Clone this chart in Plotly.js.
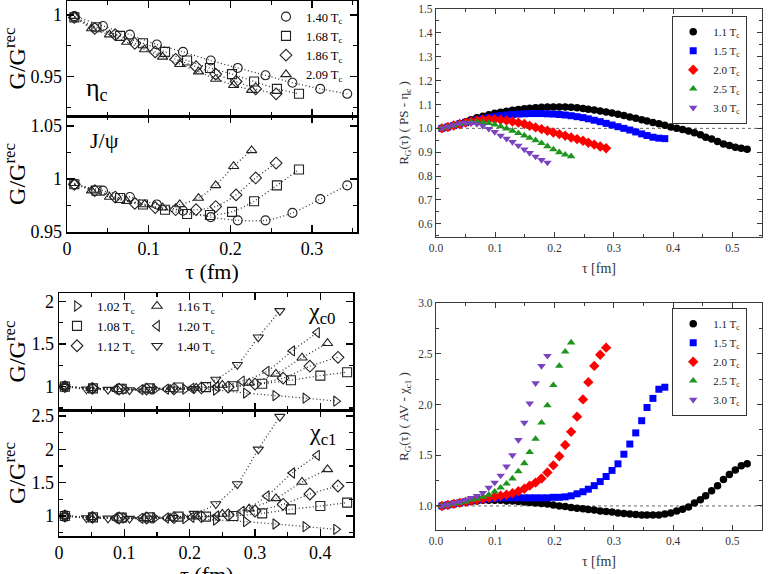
<!DOCTYPE html>
<html>
<head>
<meta charset="utf-8">
<script src="https://cdn.plot.ly/plotly-3.0.1.min.js"></script>
<style>
  html, body { margin: 0; padding: 0; background: #ffffff; }
  #chart { width: 768px; height: 574px; }
</style>
</head>
<body>
<div id="chart"></div>
<script>
// ---------------- eta_c / J/psi correlator ratios (left, top) ----------------
const TAU_PS_140 = [0.009, 0.044, 0.077, 0.110, 0.142, 0.176, 0.209, 0.243, 0.276, 0.310, 0.343];
const TAU_PS_168 = [0.009, 0.036, 0.065, 0.093, 0.120, 0.147, 0.175, 0.202, 0.229, 0.257, 0.284];
const TAU_PS_186 = [0.009, 0.034, 0.059, 0.083, 0.108, 0.133, 0.158, 0.182, 0.207, 0.231, 0.256];
const TAU_PS_209 = [0.009, 0.030, 0.052, 0.073, 0.095, 0.117, 0.138, 0.161, 0.182, 0.204, 0.226];

const ETAC_140 = [0.999, 0.991, 0.984, 0.976, 0.970, 0.963, 0.957, 0.951, 0.945, 0.940, 0.936];
const ETAC_168 = [0.998, 0.990, 0.983, 0.977, 0.970, 0.963, 0.957, 0.952, 0.946, 0.940, 0.936];
const ETAC_186 = [0.998, 0.989, 0.984, 0.977, 0.970, 0.964, 0.958, 0.952, 0.946, 0.940, 0.936];
const ETAC_209 = [0.999, 0.989, 0.984, 0.978, 0.972, 0.966, 0.960, 0.954, 0.948, 0.943, 0.939];

const JPSI_140 = [0.995, 0.989, 0.983, 0.976, 0.970, 0.964, 0.961, 0.961, 0.968, 0.981, 0.994];
const JPSI_168 = [0.995, 0.989, 0.982, 0.976, 0.971, 0.967, 0.966, 0.969, 0.979, 0.994, 1.009];
const JPSI_186 = [0.995, 0.989, 0.983, 0.977, 0.973, 0.971, 0.971, 0.974, 0.985, 1.001, 1.015];
const JPSI_209 = [0.996, 0.989, 0.983, 0.979, 0.976, 0.973, 0.976, 0.982, 0.994, 1.012, 1.027];

const PS_TEMPS = ['1.40', '1.68', '1.86', '2.09'];

// ---------------- chi_c0 / chi_c1 correlator ratios (left, bottom) ----------------
const TAU_P_102 = [0.009, 0.055, 0.101, 0.147, 0.193, 0.240, 0.286, 0.331, 0.377, 0.424];
const TAU_P_108 = [0.009, 0.052, 0.096, 0.139, 0.183, 0.225, 0.267, 0.311, 0.355, 0.400, 0.441];
const TAU_P_112 = [0.009, 0.051, 0.092, 0.134, 0.176, 0.218, 0.259, 0.300, 0.343, 0.384, 0.427];
const TAU_P_116 = [0.009, 0.049, 0.089, 0.130, 0.170, 0.210, 0.250, 0.291, 0.332, 0.372, 0.411];
const TAU_P_120 = [0.009, 0.048, 0.086, 0.125, 0.164, 0.203, 0.241, 0.280, 0.318, 0.357, 0.395];
const TAU_P_140 = [0.009, 0.042, 0.075, 0.108, 0.141, 0.174, 0.207, 0.240, 0.273, 0.305, 0.338];

const CHI0_102 = [1.00, 0.98, 0.97, 0.97, 0.97, 0.96, 0.925, 0.895, 0.865, 0.83];
const CHI0_108 = [1.00, 0.98, 0.975, 0.98, 0.99, 0.995, 1.005, 1.035, 1.075, 1.13, 1.17];
const CHI0_112 = [1.00, 0.98, 0.97, 0.97, 0.975, 0.985, 0.996, 1.03, 1.10, 1.24, 1.345];
const CHI0_116 = [1.00, 0.98, 0.97, 0.965, 0.97, 0.985, 1.02, 1.045, 1.15, 1.34, 1.51];
const CHI0_120 = [1.00, 0.98, 0.97, 0.965, 0.97, 0.98, 1.00, 1.065, 1.18, 1.42, 1.635];
const CHI0_140 = [1.00, 0.97, 0.965, 0.96, 0.965, 0.97, 0.975, 1.085, 1.257, 1.58, 1.89];

const CHI1_102 = [1.00, 0.98, 0.97, 0.97, 0.96, 0.94, 0.915, 0.88, 0.84, 0.80];
const CHI1_108 = [1.00, 0.98, 0.975, 0.98, 0.99, 0.99, 1.00, 1.04, 1.10, 1.15, 1.20];
const CHI1_112 = [1.00, 0.98, 0.97, 0.97, 0.975, 0.99, 1.015, 1.075, 1.175, 1.33, 1.45];
const CHI1_116 = [1.00, 0.98, 0.97, 0.965, 0.97, 0.99, 1.03, 1.11, 1.265, 1.51, 1.70];
const CHI1_120 = [1.00, 0.98, 0.97, 0.965, 0.97, 0.98, 1.00, 1.07, 1.30, 1.645, 1.91];
const CHI1_140 = [1.00, 0.97, 0.965, 0.96, 0.965, 0.975, 1.035, 1.18, 1.48, 2.00, 2.49];

const P_TEMPS = ['1.02', '1.08', '1.12', '1.16', '1.20', '1.40'];

// ---------------- R_G(tau) for PS and AV channels (right) ----------------
const TAU_GRID = [0.010, 0.020, 0.030, 0.040, 0.050, 0.059, 0.069, 0.079, 0.089, 0.099,
                  0.109, 0.119, 0.129, 0.139, 0.149, 0.158, 0.168, 0.178, 0.188, 0.198,
                  0.208, 0.218, 0.228, 0.238, 0.248, 0.257, 0.267, 0.277, 0.287, 0.297,
                  0.307, 0.317, 0.327, 0.337, 0.347, 0.356, 0.366, 0.376, 0.386, 0.396,
                  0.406, 0.416, 0.426, 0.436, 0.446, 0.455, 0.465, 0.475, 0.485, 0.495,
                  0.505, 0.515, 0.525];

const RPS_11 = [1.000, 1.006, 1.013, 1.020, 1.028, 1.036, 1.044, 1.051, 1.057, 1.063,
                1.068, 1.072, 1.076, 1.079, 1.082, 1.084, 1.086, 1.088, 1.089, 1.090,
                1.090, 1.089, 1.088, 1.086, 1.083, 1.080, 1.077, 1.073, 1.069, 1.064,
                1.059, 1.054, 1.048, 1.042, 1.036, 1.031, 1.025, 1.019, 1.013, 1.006,
                1.000, 0.995, 0.989, 0.982, 0.973, 0.963, 0.955, 0.945, 0.935, 0.928,
                0.921, 0.917, 0.913];
const RPS_15 = [1.000, 1.006, 1.012, 1.018, 1.024, 1.030, 1.036, 1.041, 1.046, 1.050,
                1.053, 1.056, 1.058, 1.060, 1.061, 1.062, 1.062, 1.062, 1.061, 1.060,
                1.058, 1.056, 1.053, 1.049, 1.045, 1.040, 1.034, 1.028, 1.021, 1.014,
                1.007, 1.000, 0.993, 0.985, 0.977, 0.970, 0.963, 0.959, 0.957];
const RPS_20 = [1.000, 1.006, 1.012, 1.018, 1.024, 1.029, 1.033, 1.036, 1.038, 1.038,
                1.036, 1.033, 1.029, 1.024, 1.018, 1.011, 1.004, 0.997, 0.990, 0.983,
                0.976, 0.969, 0.962, 0.955, 0.948, 0.940, 0.932, 0.924, 0.917];
const RPS_25 = [1.000, 1.006, 1.012, 1.018, 1.023, 1.027, 1.028, 1.026, 1.022, 1.016,
                1.008, 0.999, 0.990, 0.980, 0.970, 0.960, 0.950, 0.938, 0.925, 0.912,
                0.900, 0.890, 0.883];
const RPS_30 = [1.000, 1.007, 1.014, 1.020, 1.023, 1.022, 1.018, 1.010, 0.998, 0.985,
                0.970, 0.957, 0.943, 0.928, 0.912, 0.897, 0.882, 0.868, 0.857];

const RAV_11 = [1.00, 1.01, 1.02, 1.03, 1.04, 1.045, 1.05, 1.055, 1.055, 1.055,
                1.055, 1.05, 1.05, 1.045, 1.04, 1.035, 1.03, 1.025, 1.02, 1.01,
                1.00, 0.995, 0.985, 0.978, 0.972, 0.966, 0.96, 0.95, 0.945, 0.94,
                0.93, 0.925, 0.92, 0.915, 0.91, 0.91, 0.91, 0.91, 0.92, 0.93,
                0.95, 0.967, 0.99, 1.03, 1.06, 1.10, 1.15, 1.20, 1.26, 1.31,
                1.355, 1.395, 1.415];
const RAV_15 = [1.00, 1.01, 1.02, 1.03, 1.04, 1.05, 1.06, 1.065, 1.07, 1.075,
                1.08, 1.08, 1.08, 1.08, 1.08, 1.08, 1.08, 1.08, 1.08, 1.085,
                1.085, 1.09, 1.10, 1.12, 1.14, 1.165, 1.20, 1.24, 1.29, 1.35,
                1.415, 1.51, 1.61, 1.72, 1.84, 1.97, 2.06, 2.15, 2.17];
const RAV_20 = [1.00, 1.01, 1.02, 1.03, 1.04, 1.05, 1.06, 1.07, 1.08, 1.09,
                1.10, 1.11, 1.125, 1.145, 1.17, 1.20, 1.23, 1.27, 1.33, 1.40,
                1.49, 1.60, 1.73, 1.88, 2.05, 2.22, 2.38, 2.49, 2.56];
const RAV_25 = [1.00, 1.01, 1.02, 1.03, 1.04, 1.06, 1.07, 1.09, 1.11, 1.14,
                1.18, 1.22, 1.27, 1.34, 1.42, 1.53, 1.66, 1.82, 1.99, 2.19,
                2.38, 2.52, 2.61];
const RAV_30 = [1.00, 1.01, 1.03, 1.04, 1.06, 1.08, 1.10, 1.13, 1.18, 1.23,
                1.30, 1.39, 1.50, 1.65, 1.82, 2.01, 2.21, 2.38, 2.48];

const R_TEMPS = ['1.1', '1.5', '2.0', '2.5', '3.0'];

// ---------------- styling ----------------
const SERIF = '"Liberation Serif", "Times New Roman", Times, serif';
const W = 768, H = 574;
const fx = p => p / W;          // pixel column -> paper fraction
const fy = p => 1 - p / H;      // pixel row -> paper fraction

const INK = '#000000';

const OPEN = {
  circle: 'circle-open', square: 'square-open', diamond: 'diamond-open',
  up: 'triangle-up-open', right: 'triangle-right-open',
  left: 'triangle-left-open', down: 'triangle-down-open'
};

function leftAxis(opts) {
  const base = {
    showline: true, linecolor: INK, linewidth: 1.5, mirror: 'allticks',
    ticks: 'inside', ticklen: 7, tickwidth: 1.2, tickcolor: INK,
    showgrid: false, zeroline: false, automargin: false,
    tickfont: { family: SERIF, size: 18, color: INK }
  };
  const minor = Object.assign({ ticks: 'inside', ticklen: 4, tickwidth: 1.1, tickcolor: INK, showgrid: false }, opts.minor || {});
  return Object.assign({}, base, opts, { minor });
}

function rightAxis(opts) {
  const base = {
    showline: true, linecolor: '#3a3a3a', linewidth: 1.2, mirror: 'allticks',
    ticks: 'inside', ticklen: 5, tickwidth: 1, tickcolor: '#3a3a3a',
    showgrid: false, zeroline: false, automargin: false, tickformat: '.1f',
    tickfont: { family: SERIF, size: 11.5, color: '#333' }
  };
  const minor = Object.assign({ ticks: 'inside', ticklen: 3, tickwidth: 1, tickcolor: '#3a3a3a', showgrid: false }, opts.minor || {});
  return Object.assign({}, base, opts, { minor });
}

const traces = [];

// dotted guide curve + open markers for one series of a left panel
function leftSeries(tau, vals, symbol, label, xa, ya, legendId, showInLegend) {
  traces.push({
    type: 'scatter', mode: 'lines', x: tau, y: vals, xaxis: xa, yaxis: ya,
    line: { dash: '1px,2.5px', width: 1.3, color: '#333', shape: 'spline', smoothing: 0.8 },
    showlegend: false, hoverinfo: 'skip'
  });
  traces.push({
    type: 'scatter', mode: 'markers', x: tau, y: vals, xaxis: xa, yaxis: ya,
    name: label + ' T<sub>c</sub>', legend: legendId, showlegend: showInLegend,
    marker: { symbol: symbol, size: 9, color: '#222', line: { width: 1.1, color: '#222' } }
  });
}

// eta_c panel (with legend) and J/psi panel
const PS_TAUS = [TAU_PS_140, TAU_PS_168, TAU_PS_186, TAU_PS_209];
const PS_SYMS = [OPEN.circle, OPEN.square, OPEN.diamond, OPEN.up];
const ETAC = [ETAC_140, ETAC_168, ETAC_186, ETAC_209];
const JPSI = [JPSI_140, JPSI_168, JPSI_186, JPSI_209];
PS_TEMPS.forEach((t, i) => leftSeries(PS_TAUS[i], ETAC[i], PS_SYMS[i], t, 'x', 'y', 'legend', true));
PS_TEMPS.forEach((t, i) => leftSeries(PS_TAUS[i], JPSI[i], PS_SYMS[i], t, 'x2', 'y2', 'legend', false));

// chi_c0 panel (with two-column legend) and chi_c1 panel
const P_TAUS = [TAU_P_102, TAU_P_108, TAU_P_112, TAU_P_116, TAU_P_120, TAU_P_140];
const P_SYMS = [OPEN.right, OPEN.square, OPEN.diamond, OPEN.up, OPEN.left, OPEN.down];
const CHI0 = [CHI0_102, CHI0_108, CHI0_112, CHI0_116, CHI0_120, CHI0_140];
const CHI1 = [CHI1_102, CHI1_108, CHI1_112, CHI1_116, CHI1_120, CHI1_140];
P_TEMPS.forEach((t, i) => leftSeries(P_TAUS[i], CHI0[i], P_SYMS[i], t, 'x3', 'y3', i < 3 ? 'legend2' : 'legend3', true));
P_TEMPS.forEach((t, i) => leftSeries(P_TAUS[i], CHI1[i], P_SYMS[i], t, 'x4', 'y4', 'legend2', false));

// right panels: filled coloured markers
const R_COLORS = ['#000000', '#0000ff', '#ff0000', '#1f951f', '#7a44bf'];
const R_SYMS = ['circle', 'square', 'diamond', 'triangle-up', 'triangle-down'];
const R_SIZES = [7.5, 7, 8, 7.5, 7.5];
const RPS = [RPS_11, RPS_15, RPS_20, RPS_25, RPS_30];
const RAV = [RAV_11, RAV_15, RAV_20, RAV_25, RAV_30];
function rightSeries(vals, i, xa, ya, legendId) {
  traces.push({
    type: 'scatter', mode: 'markers', x: TAU_GRID.slice(0, vals.length), y: vals,
    xaxis: xa, yaxis: ya, name: R_TEMPS[i] + ' T<sub>c</sub>', legend: legendId,
    marker: { symbol: R_SYMS[i], size: R_SIZES[i], color: R_COLORS[i], line: { width: 0 } }
  });
}
R_TEMPS.forEach((t, i) => rightSeries(RPS[i], i, 'x5', 'y5', 'legend4'));
R_TEMPS.forEach((t, i) => rightSeries(RAV[i], i, 'x6', 'y6', 'legend5'));

const leftLegend = (x, y, size) => ({
  x: x, y: y, xanchor: 'left', yanchor: 'top', bgcolor: 'rgba(0,0,0,0)', borderwidth: 0,
  font: { family: SERIF, size: size, color: INK }, tracegroupgap: 0, itemwidth: 30
});
const rightLegend = (x, y) => ({
  x: x, y: y, xanchor: 'left', yanchor: 'top', bgcolor: '#ffffff',
  bordercolor: '#333', borderwidth: 1.2,
  font: { family: SERIF, size: 11, color: '#222' }, tracegroupgap: 0, itemwidth: 30
});

const label = (text, px, py, size) => ({
  text: text, xref: 'paper', yref: 'paper', x: fx(px), y: fy(py),
  xanchor: 'center', yanchor: 'middle', showarrow: false,
  font: { family: SERIF, size: size, color: INK }
});

const layout = {
  width: W, height: H,
  margin: { l: 0, r: 0, t: 0, b: 0 },
  paper_bgcolor: '#ffffff', plot_bgcolor: 'rgba(0,0,0,0)',
  font: { family: SERIF, color: INK },
  showlegend: true,

  // eta_c
  xaxis: leftAxis({ domain: [fx(67), fx(357)], range: [0, 0.355], anchor: 'y', dtick: 0.1, tick0: 0,
    minor: { dtick: 0.05 }, showticklabels: false }),
  yaxis: leftAxis({ domain: [fy(116), fy(1)], range: [0.918, 1.0113], anchor: 'x', dtick: 0.05, tick0: 0,
    minor: { dtick: 0.025 },
    title: { text: 'G/G<sup>rec</sup>', font: { family: SERIF, size: 24, color: INK }, standoff: 4 } }),
  // J/psi
  xaxis2: leftAxis({ domain: [fx(67), fx(357)], range: [0, 0.355], anchor: 'y2', dtick: 0.1, tick0: 0,
    minor: { dtick: 0.05 },
    title: { text: 'τ (fm)', font: { family: SERIF, size: 22, color: INK }, standoff: 4 } }),
  yaxis2: leftAxis({ domain: [fy(232), fy(116)], range: [0.95, 1.0594], anchor: 'x2', dtick: 0.05, tick0: 0,
    minor: { dtick: 0.025 },
    title: { text: 'G/G<sup>rec</sup>', font: { family: SERIF, size: 24, color: INK }, standoff: 4 } }),
  // chi_c0
  xaxis3: leftAxis({ domain: [fx(59), fx(353)], range: [0, 0.45], anchor: 'y3', dtick: 0.1, tick0: 0,
    minor: { dtick: 0.05 }, showticklabels: false }),
  yaxis3: leftAxis({ domain: [fy(410), fy(293)], range: [0.726, 2.10], anchor: 'x3', dtick: 0.5, tick0: 0,
    minor: { dtick: 0.25 },
    title: { text: 'G/G<sup>rec</sup>', font: { family: SERIF, size: 24, color: INK }, standoff: 6 } }),
  // chi_c1 (its tau title sits at the bottom edge of the page, placed as an annotation below)
  xaxis4: leftAxis({ domain: [fx(59), fx(353)], range: [0, 0.45], anchor: 'y4', dtick: 0.1, tick0: 0,
    minor: { dtick: 0.05 } }),
  yaxis4: leftAxis({ domain: [fy(536), fy(410)], range: [0.70, 2.59], anchor: 'x4', dtick: 0.5, tick0: 0,
    minor: { dtick: 0.25 },
    title: { text: 'G/G<sup>rec</sup>', font: { family: SERIF, size: 24, color: INK }, standoff: 6 } }),
  // R_G, pseudoscalar
  xaxis5: rightAxis({ domain: [fx(436), fx(762)], range: [0, 0.55], anchor: 'y5', dtick: 0.1, tick0: 0,
    minor: { dtick: 0.05 },
    title: { text: 'τ [fm]', font: { family: SERIF, size: 14, color: '#333' }, standoff: 10 } }),
  yaxis5: rightAxis({ domain: [fy(237), fy(9)], range: [0.545, 1.5], anchor: 'x5', dtick: 0.1, tick0: 0,
    minor: { dtick: 0.05 },
    title: { text: 'R<sub>G</sub>(τ) ( PS - η<sub>c</sub> )', font: { family: SERIF, size: 13, color: '#333' }, standoff: 6 } }),
  // R_G, axial vector
  xaxis6: rightAxis({ domain: [fx(436), fx(762)], range: [0, 0.55], anchor: 'y6', dtick: 0.1, tick0: 0,
    minor: { dtick: 0.05 },
    title: { text: 'τ [fm]', font: { family: SERIF, size: 14, color: '#333' }, standoff: 10 } }),
  yaxis6: rightAxis({ domain: [fy(530), fy(303)], range: [0.763, 3.0], anchor: 'x6', dtick: 0.5, tick0: 0,
    minor: { dtick: 0.25 },
    title: { text: 'R<sub>G</sub>(τ) ( AV - χ<sub>c1</sub> )', font: { family: SERIF, size: 13, color: '#333' }, standoff: 6 } }),

  legend: leftLegend(fx(266), fy(2), 12.5),
  legend2: leftLegend(fx(57), fy(291), 13),
  legend3: leftLegend(fx(137), fy(291), 13),
  legend4: rightLegend(fx(672), fy(16)),
  legend5: rightLegend(fx(672), fy(308)),

  shapes: [
    { type: 'line', xref: 'x5 domain', x0: 0, x1: 1, yref: 'y5', y0: 1, y1: 1, layer: 'below',
      line: { color: '#666', width: 1, dash: 'dot' } },
    { type: 'line', xref: 'x6 domain', x0: 0, x1: 1, yref: 'y6', y0: 1, y1: 1, layer: 'below',
      line: { color: '#666', width: 1, dash: 'dot' } }
  ],

  annotations: [
    label('η<sub>c</sub>', 97, 89, 26),
    label('J/ψ', 104, 140, 22),
    label('χ<sub>c0</sub>', 322, 313, 24),
    label('χ<sub>c1</sub>', 323, 434, 24),
    label('τ (fm)', 206, 574, 22)
  ]
};

Plotly.newPlot('chart', traces, layout, { staticPlot: true, displayModeBar: false });
</script>
</body>
</html>
